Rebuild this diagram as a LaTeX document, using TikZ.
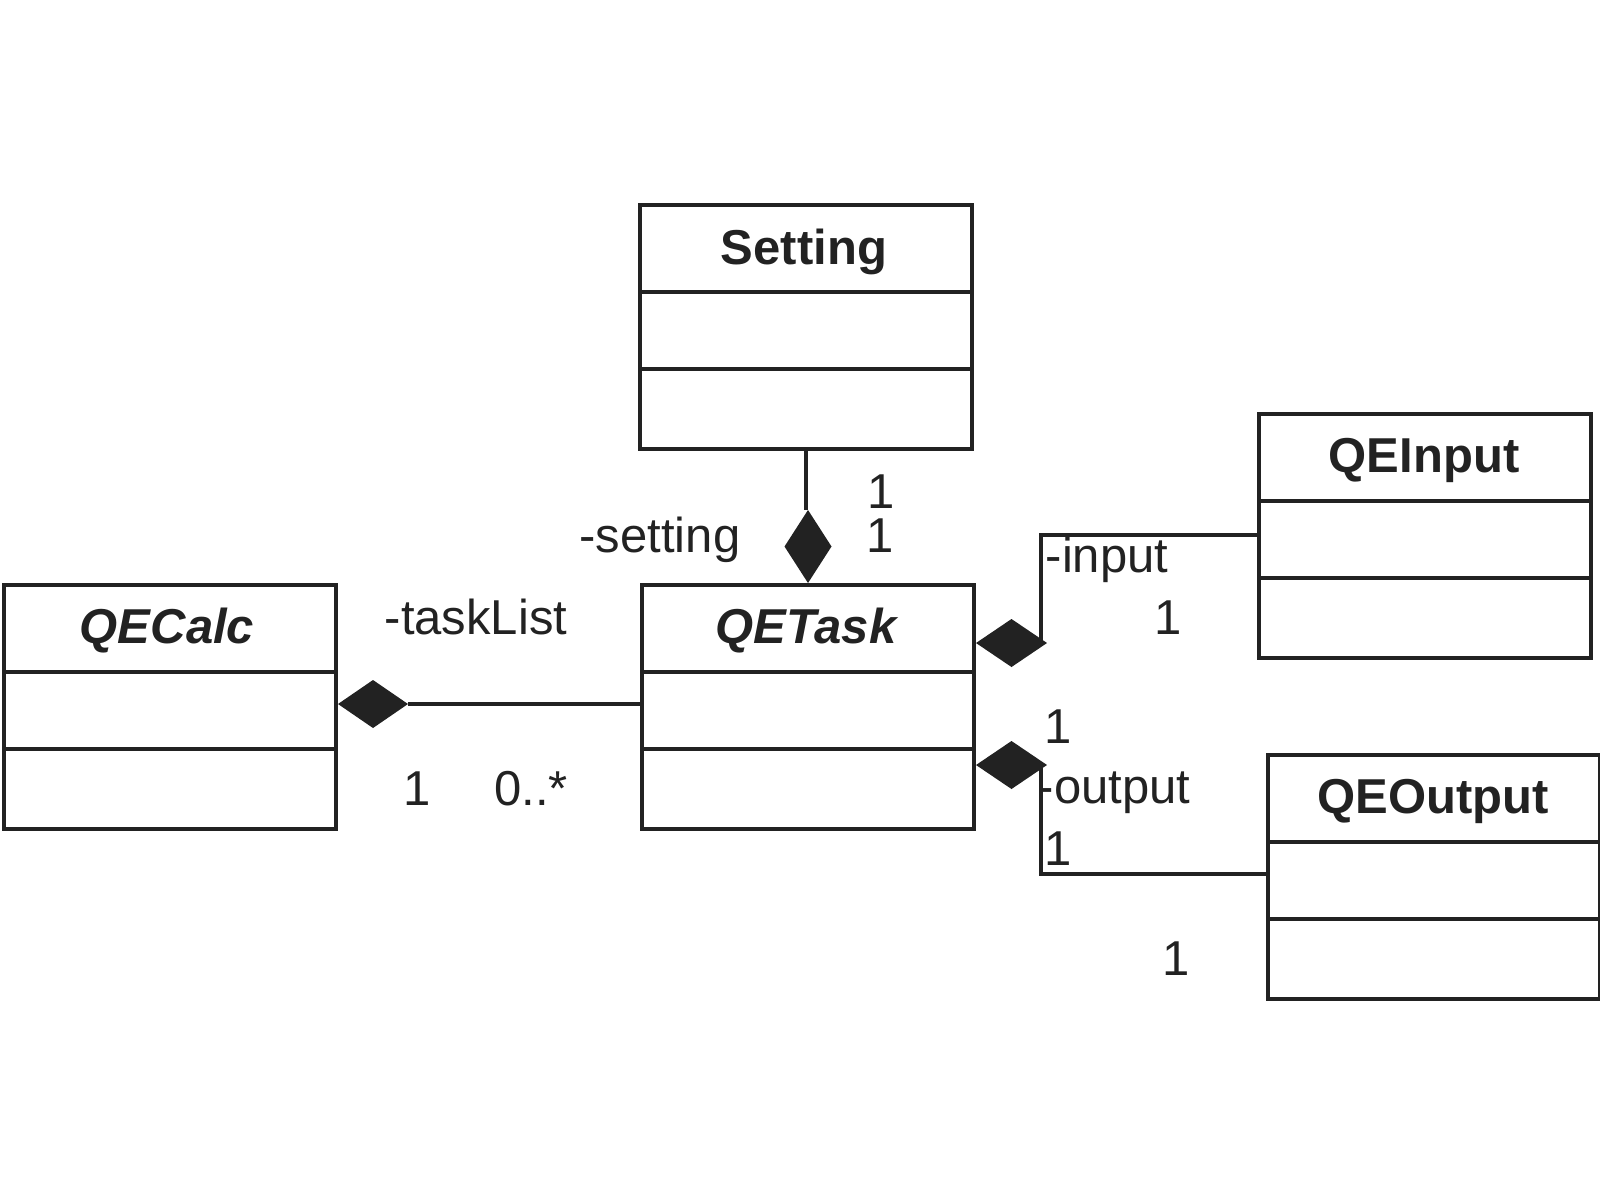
\documentclass[tikz,border=0pt]{standalone}
\usepackage{fontspec}
\setmainfont{Liberation Sans}
\definecolor{ink}{RGB}{34,34,34}
\begin{document}
\begin{tikzpicture}[x=1pt,y=-1pt,
  cls/.style={draw=ink, line width=4pt, rectangle, inner sep=0pt, anchor=north west, minimum width=332pt, minimum height=244pt},
  conn/.style={draw=ink, line width=3.5pt},
  dvd/.style={draw=ink, line width=4pt},
  lbl/.style={text=ink, font=\fontsize{49}{58}\selectfont, anchor=base, inner sep=0pt},
  ttl/.style={text=ink, font=\fontsize{49}{58}\selectfont\bfseries, anchor=base, inner sep=0pt},
  ittl/.style={text=ink, font=\fontsize{49}{58}\selectfont\bfseries\itshape, anchor=base, inner sep=0pt}]
\useasboundingbox (0,0) rectangle (1600,1200);

% classes
\node[cls] (setting) at (638,203) {};
\node[cls] (qecalc) at (2,583) {};
\node[cls] (qetask) at (640,583) {};
\node[cls] (qeinput) at (1257,412) {};
\node[cls] (qeoutput) at (1266,753) {};

\draw[dvd] (setting.west |- 0,292) -- (setting.east |- 0,292);
\draw[dvd] (setting.west |- 0,369) -- (setting.east |- 0,369);
\draw[dvd] (qecalc.west |- 0,672) -- (qecalc.east |- 0,672);
\draw[dvd] (qecalc.west |- 0,749) -- (qecalc.east |- 0,749);
\draw[dvd] (qetask.west |- 0,672) -- (qetask.east |- 0,672);
\draw[dvd] (qetask.west |- 0,749) -- (qetask.east |- 0,749);
\draw[dvd] (qeinput.west |- 0,501) -- (qeinput.east |- 0,501);
\draw[dvd] (qeinput.west |- 0,578) -- (qeinput.east |- 0,578);
\draw[dvd] (qeoutput.west |- 0,842) -- (qeoutput.east |- 0,842);
\draw[dvd] (qeoutput.west |- 0,919) -- (qeoutput.east |- 0,919);

\node[ttl] (settingT) at (804,264) {Setting};
\node[ittl] (qecalcT) at (167,643) {QECalc};
\node[ittl] (qetaskT) at (806,643) {QETask};
\node[ttl] (qeinputT) at (1424,472) {QEInput};
\node[ttl] (qeoutputT) at (1433,813) {QEOutput};

% Setting -- QETask composition
\path (qetask.north) coordinate (sB) ++(0,-73) coordinate (sT);
\fill[ink] (sB) -- ++(-23.5,-36.5) -- (sT) -- ++(23.5,36.5) -- cycle;
\draw[conn] (setting.south) -- (setting.south |- sT);

% QECalc -- QETask composition
\path (qecalc.east |- 0,704) coordinate (cL) ++(70,0) coordinate (cR);
\fill[ink] (cL) -- ++(35,-24) -- (cR) -- ++(-35,24) -- cycle;
\draw[conn] (cR) -- (qetask.west |- cR);

% QETask -- QEInput composition
\path (qetask.east |- 0,643) coordinate (iL) ++(71,0) coordinate (iR) ++(-6,-3) coordinate (iJ);
\fill[ink] (iL) -- ++(35.5,-24) -- (iR) -- ++(-35.5,24) -- cycle;
\draw[conn] (qeinput.west |- 0,535) -| (iJ);

% QETask -- QEOutput composition
\path (qetask.east |- 0,765) coordinate (oL) ++(71,0) coordinate (oR) ++(-6,3) coordinate (oJ);
\fill[ink] (oL) -- ++(35.5,-24) -- (oR) -- ++(-35.5,24) -- cycle;
\draw[conn] (oJ) |- (qeoutput.west |- 0,874);

% labels
\node[lbl] (l1) at (881,508) {1};
\node[lbl] (l2) at (880,552) {1};
\node[lbl] (lset) at (660,552) {-setting};
\node[lbl] (ltask) at (476,634) {-taskList};
\node[lbl] (l3) at (417,805) {1};
\node[lbl] (l4) at (531,805) {0..*};
\node[lbl] (lin) at (1107,572) {-input};
\node[lbl] (l5) at (1168,634) {1};
\node[lbl] (l6) at (1058,743) {1};
\node[lbl] (lout) at (1114,803) {-output};
\node[lbl] (l7) at (1058,865) {1};
\node[lbl] (l8) at (1176,975) {1};
\end{tikzpicture}
\end{document}
